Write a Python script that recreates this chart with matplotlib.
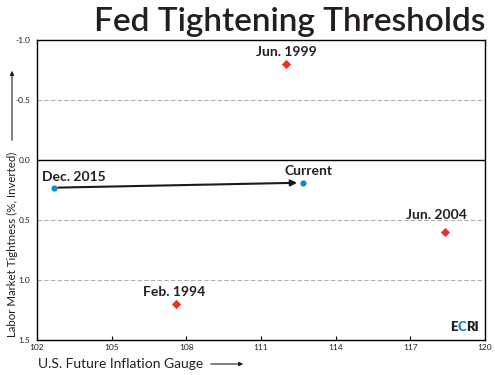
import matplotlib
matplotlib.use('Agg')
import matplotlib.pyplot as plt
from matplotlib.offsetbox import TextArea, HPacker, AnchoredOffsetbox

# chart data
names = ['Jun. 1999', 'Jun. 2004', 'Feb. 1994']
gauge = [112.0, 118.4, 107.6]
labor = [-0.8, 0.6, 1.2]

path_names = ['Dec. 2015', 'Current']
path_gauge = [102.7, 112.7]
path_labor = [0.23, 0.19]

x_ticks = [102, 105, 108, 111, 114, 117, 120]
y_ticks = [-1.0, -0.5, 0.0, 0.5, 1.0, 1.5]

plt.rcParams['font.family'] = ['Lato', 'DejaVu Sans']
dark = '#231f20'
red = '#e8312f'
blue = '#1a85c8'

fig = plt.figure(figsize=(4.95, 3.75), dpi=100)
ax = fig.add_axes([37 / 495, 35 / 375, 448 / 495, 300 / 375])

ax.set_xlim(102, 120)
ax.set_ylim(1.5, -1.0)
ax.set_xticks(x_ticks)
ax.set_xticklabels([str(t) for t in x_ticks], fontsize=6, color=dark)
ax.set_yticks(y_ticks)
ax.set_yticklabels(['%.1f' % t for t in y_ticks], fontsize=6, color=dark)
ax.tick_params(axis='x', direction='in', length=3, width=0.8, pad=3)
ax.tick_params(axis='y', length=0, pad=5)
for s in ax.spines.values():
    s.set_linewidth(1.0)
    s.set_color('black')

# grid lines
for t in [-0.5, 0.5, 1.0]:
    ax.axhline(t, color='#b0b0b0', lw=0.8, ls=(0, (4, 2)), zorder=1)
ax.axhline(0.0, color='black', lw=1.0, zorder=1)

# threshold points
ax.scatter(gauge, labor, marker='D', s=22, color=red, zorder=3, linewidths=0)
ax.scatter(path_gauge, path_labor, marker='o', s=20, color=blue, zorder=3,
           linewidths=0)

# arrow from Dec 2015 to current
ax.annotate('', xy=(path_gauge[1] - 0.25, path_labor[1]),
            xytext=(path_gauge[0] + 0.15, path_labor[0]),
            arrowprops=dict(arrowstyle='-|>', color='#1a1a1a', lw=1.5,
                            mutation_scale=9, shrinkA=0, shrinkB=0), zorder=2)

# labels
lab_kw = dict(fontsize=10, color=dark, fontweight='bold')
ax.text(gauge[0], labor[0] - 0.1, names[0], ha='center', va='center', **lab_kw)
ax.text(gauge[1] - 0.35, labor[1] - 0.14, names[1], ha='center', va='center', **lab_kw)
ax.text(gauge[2] - 0.1, labor[2] - 0.1, names[2], ha='center', va='center', **lab_kw)
ax.text(path_gauge[0] - 0.5, path_labor[0] - 0.09, path_names[0], ha='left',
        va='center', **lab_kw)
ax.text(path_gauge[1] + 0.2, path_labor[1] - 0.1, path_names[1], ha='center',
        va='center', **lab_kw)

# ECRI logo
logo_kw = dict(fontsize=9.5, fontweight='heavy')
logo = HPacker(children=[TextArea('E', textprops=dict(color=dark, **logo_kw)),
                         TextArea('C', textprops=dict(color=blue, **logo_kw)),
                         TextArea('RI', textprops=dict(color=dark, **logo_kw))],
               pad=0, sep=0)
ax.add_artist(AnchoredOffsetbox(loc='lower right', child=logo, pad=0,
                                borderpad=0.3, frameon=False,
                                bbox_to_anchor=(0.995, 0.01),
                                bbox_transform=ax.transAxes))

# title
fig.text(485 / 495, 1 - 31 / 375, 'Fed Tightening Thresholds', ha='right',
         va='baseline', fontsize=24, color=dark, fontweight=600)

# axis titles with arrows
fig.text(38 / 495, 1 - 368 / 375, 'U.S. Future Inflation Gauge', ha='left',
         va='baseline', fontsize=10, color=dark)
fig.add_artist(matplotlib.patches.FancyArrowPatch(
    (208 / 495, 1 - 364 / 375), (246 / 495, 1 - 364 / 375),
    transform=fig.transFigure, arrowstyle='-|>', mutation_scale=6,
    lw=0.8, color=dark))

fig.text(12 / 495, 1 - 337 / 375, 'Labor Market Tightness (%, Inverted)',
         ha='left', va='center', rotation=90, fontsize=8.3, color=dark,
         rotation_mode='anchor')
fig.add_artist(matplotlib.patches.FancyArrowPatch(
    (12 / 495, 1 - 143 / 375), (12 / 495, 1 - 68 / 375),
    transform=fig.transFigure, arrowstyle='-|>', mutation_scale=6,
    lw=0.8, color=dark))

fig.savefig('out.png', dpi=100)
